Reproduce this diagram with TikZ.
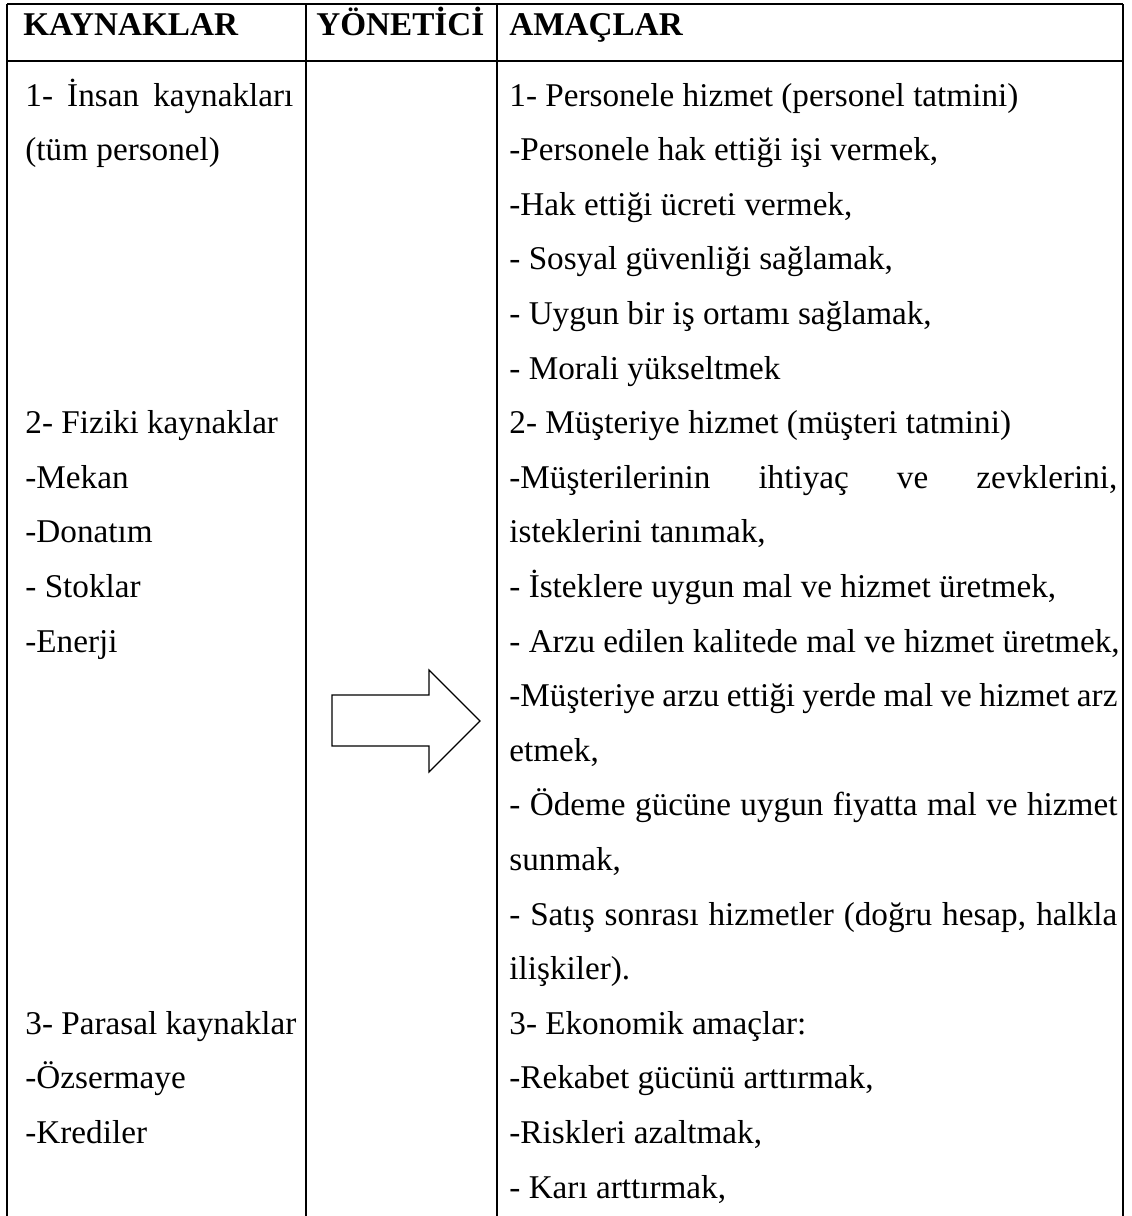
\documentclass[tikz,border=0pt]{standalone}
\usepackage{fontspec}
\setmainfont{Liberation Serif}
\begin{document}
\begin{tikzpicture}[x=0.5pt,y=-0.5pt,
  grid/.style={line width=1pt,black},
  txt/.style={anchor=base west,inner sep=0pt,font=\fontsize{16.6}{20}\selectfont},
  hdr/.style={txt,font=\fontsize{16.6}{20}\selectfont\bfseries},
  arrowshape/.style={line width=0.55pt,black,line join=miter}]
\useasboundingbox[fill=white] (0,0) rectangle (1131,1216);
% grid
\coordinate (tl) at (7,4);
\coordinate (tr) at (1123,4);
\coordinate (hl) at (7,61);
\coordinate (hr) at (1123,61);
\coordinate (bl) at (7,1216);
\coordinate (br) at (1123,1216);
\coordinate (c1t) at (306,4);
\coordinate (c1b) at (306,1216);
\coordinate (c2t) at (497,4);
\coordinate (c2b) at (497,1216);
\draw[grid] (tl) -- (tr);
\draw[grid] (hl) -- (hr);
\draw[grid] (tl) -- (bl);
\draw[grid] (tr) -- (br);
\draw[grid] (c1t) -- (c1b);
\draw[grid] (c2t) -- (c2b);
% headers
\node[hdr] (h1) at (23,35) {KAYNAKLAR};
\node[hdr] (h2) at (316,35) {YÖNETİCİ};
\node[hdr] (h3) at (509,35) {AMAÇLAR};
% column 1
\node[txt] (a1) at (25,106) {\makebox[134pt][s]{1- İnsan kaynakları}};
\node[txt] (a2) at (25,160.6) {(tüm personel)};
\node[txt] (a7) at (25,433.6) {2- Fiziki kaynaklar};
\node[txt] (a8) at (25,488.2) {-Mekan};
\node[txt] (a9) at (25,542.8) {-Donatım};
\node[txt] (a10) at (25,597.4) {- Stoklar};
\node[txt] (a11) at (25,652) {-Enerji};
\node[txt] (a18) at (25,1034.2) {3- Parasal kaynaklar};
\node[txt] (a19) at (25,1088.8) {-Özsermaye};
\node[txt] (a20) at (25,1143.4) {-Krediler};
% column 3
\node[txt] (b1) at (509,106) {1- Personele hizmet (personel tatmini)};
\node[txt] (b2) at (509,160.6) {-Personele hak ettiği işi vermek,};
\node[txt] (b3) at (509,215.2) {-Hak ettiği ücreti vermek,};
\node[txt] (b4) at (509,269.8) {- Sosyal güvenliği sağlamak,};
\node[txt] (b5) at (509,324.4) {- Uygun bir iş ortamı sağlamak,};
\node[txt] (b6) at (509,379) {- Morali yükseltmek};
\node[txt] (b7) at (509,433.6) {2- Müşteriye hizmet (müşteri tatmini)};
\node[txt] (b8) at (509,488.2) {\makebox[304pt][s]{-Müşterilerinin ihtiyaç ve zevklerini,}};
\node[txt] (b9) at (509,542.8) {isteklerini tanımak,};
\node[txt] (b10) at (509,597.4) {- İsteklere uygun mal ve hizmet üretmek,};
\node[txt] (b11) at (509,652) {- Arzu edilen kalitede mal ve hizmet üretmek,};
\node[txt] (b12) at (509,706.6) {\makebox[304pt][s]{-Müşteriye arzu ettiği yerde mal ve hizmet arz}};
\node[txt] (b13) at (509,761.2) {etmek,};
\node[txt] (b14) at (509,815.8) {\makebox[304pt][s]{- Ödeme gücüne uygun fiyatta mal ve hizmet}};
\node[txt] (b15) at (509,870.4) {sunmak,};
\node[txt] (b16) at (509,925) {\makebox[304pt][s]{- Satış sonrası hizmetler (doğru hesap, halkla}};
\node[txt] (b17) at (509,979.6) {ilişkiler).};
\node[txt] (b18) at (509,1034.2) {3- Ekonomik amaçlar:};
\node[txt] (b19) at (509,1088.8) {-Rekabet gücünü arttırmak,};
\node[txt] (b20) at (509,1143.4) {-Riskleri azaltmak,};
\node[txt] (b21) at (509,1198) {- Karı arttırmak,};
% block arrow
\draw[arrowshape] (332,695) -- (429,695) -- (429,670) -- (480,721) -- (429,772) -- (429,746) -- (332,746) -- cycle;
\end{tikzpicture}
\end{document}
